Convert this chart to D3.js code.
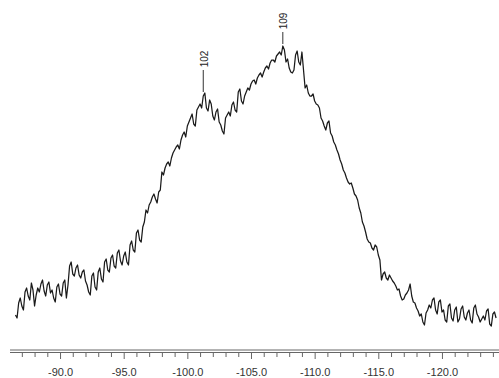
<!DOCTYPE html>
<html>
<head>
<meta charset="utf-8">
<script src="https://cdn.jsdelivr.net/npm/d3@7"></script>
<style>
  html, body { margin: 0; padding: 0; background: #fff; }
  svg { display: block; }
</style>
</head>
<body>
<svg id="chart" width="499" height="378"></svg>
<script>
// Chemical shift (ppm) of each spectrum point
const shift = [
  -86.5, -86.625, -86.75, -86.875, -87.0, -87.125, -87.25, -87.375,
  -87.5, -87.625, -87.75, -87.875, -88.0, -88.125, -88.25, -88.375,
  -88.5, -88.625, -88.75, -88.875, -89.0, -89.125, -89.25, -89.375,
  -89.5, -89.625, -89.75, -89.875, -90.0, -90.125, -90.25, -90.375,
  -90.5, -90.625, -90.75, -90.875, -91.0, -91.125, -91.25, -91.375,
  -91.5, -91.625, -91.75, -91.875, -92.0, -92.125, -92.25, -92.375,
  -92.5, -92.625, -92.75, -92.875, -93.0, -93.125, -93.25, -93.375,
  -93.5, -93.625, -93.75, -93.875, -94.0, -94.125, -94.25, -94.375,
  -94.5, -94.625, -94.75, -94.875, -95.0, -95.125, -95.25, -95.375,
  -95.5, -95.625, -95.75, -95.875, -96.0, -96.125, -96.25, -96.375,
  -96.5, -96.625, -96.75, -96.875, -97.0, -97.125, -97.25, -97.375,
  -97.5, -97.625, -97.75, -97.875, -98.0, -98.125, -98.25, -98.375,
  -98.5, -98.625, -98.75, -98.875, -99.0, -99.125, -99.25, -99.375,
  -99.5, -99.625, -99.75, -99.875, -100.0, -100.125, -100.25, -100.375,
  -100.5, -100.625, -100.75, -100.875, -101.0, -101.125, -101.25, -101.375,
  -101.5, -101.625, -101.75, -101.875, -102.0, -102.125, -102.25, -102.375,
  -102.5, -102.625, -102.75, -102.875, -103.0, -103.125, -103.25, -103.375,
  -103.5, -103.625, -103.75, -103.875, -104.0, -104.125, -104.25, -104.375,
  -104.5, -104.625, -104.75, -104.875, -105.0, -105.125, -105.25, -105.375,
  -105.5, -105.625, -105.75, -105.875, -106.0, -106.125, -106.25, -106.375,
  -106.5, -106.625, -106.75, -106.875, -107.0, -107.125, -107.25, -107.375,
  -107.5, -107.625, -107.75, -107.875, -108.0, -108.125, -108.25, -108.375,
  -108.5, -108.625, -108.75, -108.875, -109.0, -109.125, -109.25, -109.375,
  -109.5, -109.625, -109.75, -109.875, -110.0, -110.125, -110.25, -110.375,
  -110.5, -110.625, -110.75, -110.875, -111.0, -111.125, -111.25, -111.375,
  -111.5, -111.625, -111.75, -111.875, -112.0, -112.125, -112.25, -112.375,
  -112.5, -112.625, -112.75, -112.875, -113.0, -113.125, -113.25, -113.375,
  -113.5, -113.625, -113.75, -113.875, -114.0, -114.125, -114.25, -114.375,
  -114.5, -114.625, -114.75, -114.875, -115.0, -115.125, -115.25, -115.375,
  -115.5, -115.625, -115.75, -115.875, -116.0, -116.125, -116.25, -116.375,
  -116.5, -116.625, -116.75, -116.875, -117.0, -117.125, -117.25, -117.375,
  -117.5, -117.625, -117.75, -117.875, -118.0, -118.125, -118.25, -118.375,
  -118.5, -118.625, -118.75, -118.875, -119.0, -119.125, -119.25, -119.375,
  -119.5, -119.625, -119.75, -119.875, -120.0, -120.125, -120.25, -120.375,
  -120.5, -120.625, -120.75, -120.875, -121.0, -121.125, -121.25, -121.375,
  -121.5, -121.625, -121.75, -121.875, -122.0, -122.125, -122.25, -122.375,
  -122.5, -122.625, -122.75, -122.875, -123.0, -123.125, -123.25, -123.375,
  -123.5, -123.625, -123.75, -123.875, -124.0, -124.125, -124.25
];

// Signal intensity (arbitrary units) at each shift
const intensity = [
  25, 22, 37, 42, 34, 30, 48, 52, 44, 40,
  57, 50, 34, 45, 52, 48, 56, 60, 49, 44,
  55, 58, 47, 50, 42, 38, 53, 56, 46, 44,
  57, 60, 42, 55, 74, 78, 66, 64, 72, 75,
  65, 62, 68, 70, 59, 55, 48, 45, 64, 67,
  53, 50, 68, 72, 61, 58, 78, 81, 70, 68,
  82, 85, 74, 72, 87, 90, 79, 75, 84, 88,
  78, 75, 95, 99, 90, 88, 107, 110, 100, 98,
  113, 118, 130, 127, 135, 138, 143, 146, 141, 137,
  148, 150, 168, 165, 172, 176, 178, 174, 182, 187,
  190, 193, 195, 191, 200, 205, 208, 203, 214, 218,
  222, 226, 216, 214, 230, 233, 236, 232, 244, 247,
  232, 229, 240, 236, 224, 220, 228, 231, 218, 215,
  209, 206, 222, 225, 228, 224, 235, 238, 230, 228,
  248, 251, 239, 236, 244, 248, 252, 250, 256, 259,
  260, 256, 262, 265, 267, 263, 268, 272, 274, 271,
  277, 280, 280, 278, 284, 286, 288, 285, 294, 290,
  278, 281, 272, 268, 267, 270, 285, 289, 278, 275,
  288, 270, 252, 255, 247, 244, 244, 246, 239, 236,
  235, 232, 222, 219, 214, 210, 217, 219, 207, 204,
  198, 195, 190, 186, 180, 176, 170, 167, 162, 158,
  156, 157, 152, 146, 144, 140, 132, 127, 118, 114,
  108, 101, 98, 97, 92, 90, 95, 93, 85, 80,
  60, 66, 68, 62, 60, 65, 62, 59, 57, 54,
  50, 51, 44, 40, 41, 45, 47, 50, 56, 44,
  38, 37, 32, 29, 24, 26, 18, 15, 27, 30,
  35, 32, 40, 42, 30, 26, 38, 40, 28, 30,
  20, 18, 34, 36, 22, 19, 30, 33, 18, 21,
  31, 34, 23, 20, 27, 30, 20, 17, 32, 35,
  26, 23, 18, 21, 24, 20, 29, 31, 16, 14,
  26, 28, 22
];

// Axis tick values (ppm)
const majorTicks = [-90, -95, -100, -105, -110, -115, -120];
const minorTicks = [
  -87, -88, -89, -91, -92, -93, -94, -96, -97, -98, -99,
  -101, -102, -103, -104, -106, -107, -108, -109, -111, -112, -113, -114,
  -116, -117, -118, -119, -121, -122, -123, -124
];

// Annotated peaks: position and printed label
const peakShift = [-101.25, -107.5];
const peakLabel = ["102", "109"];

const svg = d3.select("#chart");

const x = d3.scaleLinear().domain([-86.07, -124.48]).range([10, 499]);
const y = d3.scaleLinear().domain([0, 340]).range([340, 0]);

const n = Math.min(shift.length, intensity.length);
const points = d3.range(n).map(i => [shift[i], intensity[i]]);

// Spectrum trace
svg.append("path")
  .datum(points)
  .attr("fill", "none")
  .attr("stroke", "#1a1a1a")
  .attr("stroke-width", 1.25)
  .attr("stroke-linejoin", "round")
  .attr("d", d3.line().x(d => x(d[0])).y(d => y(d[1])));

// Peak markers
const peakAt = s => {
  let best = 0;
  for (let i = 0; i < n; i++) {
    if (Math.abs(shift[i] - s) < Math.abs(shift[best] - s)) best = i;
  }
  return intensity[best];
};
const peakGap = [4, 2];
const peakLine = [22, 12];
peakShift.forEach((s, i) => {
  const px = x(s);
  const top = y(peakAt(s)) - peakGap[i];
  svg.append("line")
    .attr("x1", px).attr("x2", px)
    .attr("y1", top - peakLine[i]).attr("y2", top)
    .attr("stroke", "#333").attr("stroke-width", 1);
  svg.append("text")
    .attr("transform", `translate(${px + 1},${top - peakLine[i] - 11}) rotate(-90)`)
    .attr("text-anchor", "middle")
    .attr("dominant-baseline", "central")
    .attr("font-family", "Liberation Sans, Arial, sans-serif")
    .attr("font-size", 10)
    .attr("fill", "#222")
    .text(peakLabel[i]);
});

// Axis: double rule with minor and major ticks
const axisY = 350;
const g = svg.append("g").attr("transform", `translate(0,${axisY})`);

g.append("line")
  .attr("x1", 10).attr("x2", 499).attr("y1", 0).attr("y2", 0)
  .attr("stroke", "#666").attr("stroke-width", 1);
g.append("line")
  .attr("x1", 10).attr("x2", 499).attr("y1", 2.5).attr("y2", 2.5)
  .attr("stroke", "#666").attr("stroke-width", 1);

const minorAxis = d3.axisBottom(x).tickValues(minorTicks).tickSize(4).tickFormat("");
const gm = svg.append("g").attr("transform", `translate(0,${axisY + 3})`).call(minorAxis);
gm.select(".domain").remove();
gm.selectAll(".tick line").attr("stroke", "#666");

const majorAxis = d3.axisBottom(x).tickValues(majorTicks).tickSize(6)
  .tickFormat(d => "-" + Math.abs(d).toFixed(1)).tickPadding(9);
const gM = svg.append("g").attr("transform", `translate(0,${axisY + 3})`).call(majorAxis);
gM.select(".domain").remove();
gM.selectAll(".tick line").attr("stroke", "#666");
gM.selectAll(".tick text")
  .attr("font-family", "Liberation Sans, Arial, sans-serif")
  .attr("font-size", 11)
  .attr("fill", "#333");
</script>
</body>
</html>
